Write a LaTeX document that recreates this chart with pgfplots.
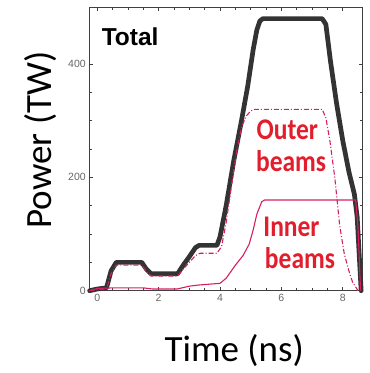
\documentclass[border=0pt]{standalone}
\usepackage{pgfplots}
\pgfplotsset{compat=1.18}
\usepackage{fontspec}
\setmainfont{Carlito}
\newfontfamily\arialfont{Liberation Sans}

\definecolor{beamline}{HTML}{D61E64}
\definecolor{beamtext}{HTML}{E21E2D}
\definecolor{totalline}{HTML}{333333}
\definecolor{tickgray}{HTML}{666666}

\begin{document}
\begin{tikzpicture}[x=1pt,y=1pt]
\path[use as bounding box] (-89.3,-82.3) rectangle (280.7,290.7);
\begin{axis}[
  at={(0,0)}, anchor=south west,
  scale only axis, width=273.4pt, height=283.4pt,
  xmin=-0.26, xmax=8.65, ymin=0, ymax=500,
  xtick={0,2,4,6,8}, ytick={0,200,400},
  minor x tick num=3, minor y tick num=3,
  tick align=inside,
  axis line style={color=black!75, line width=0.6pt},
  every tick/.style={color=black!75, line width=0.5pt},
  major tick length=4pt, minor tick length=3pt,
  /pgf/number format/assume math mode=true,
  ticklabel style={font=\arialfont\fontsize{10.5}{11}\selectfont, text=tickgray},
  xlabel={Time (ns)}, ylabel={Power (TW)},
  label style={font=\fontsize{37}{40}\selectfont},
  xlabel style={at={(axis description cs:0.530,-0.2505)}, anchor=base},
  ylabel style={at={(axis description cs:-0.1375,0.532)}, anchor=base},
  clip=false,
]
% total delivered power
\addplot[totalline, line width=4.7pt, line join=round, line cap=round] coordinates {
  (-0.25,0) (0,3) (0.3,5) (0.45,35) (0.62,50) (1.45,50) (1.6,38) (1.75,30)
  (2.62,30) (2.8,45) (3.0,60) (3.2,76) (3.32,80) (3.9,80) (4.0,95) (4.2,150)
  (4.45,230) (4.7,300) (4.9,360) (5.08,425) (5.2,460) (5.3,476) (5.4,480)
  (7.33,480) (7.45,470) (7.6,405) (7.8,330) (8.0,265) (8.2,210) (8.38,170)
  (8.47,130) (8.53,70) (8.6,0)
};
% outer beams
\addplot[beamline, line width=1.1pt, dash pattern=on 5pt off 2pt on 1pt off 2pt] coordinates {
  (-0.25,0) (0,2) (0.3,3) (0.45,30) (0.62,45) (1.45,45) (1.6,34) (1.75,26)
  (2.62,26) (2.8,38) (3.0,50) (3.2,62) (3.35,66) (3.9,66) (4.05,78) (4.2,120)
  (4.4,195) (4.55,248) (4.7,288) (4.85,308) (5.0,317) (5.1,320)
  (7.33,320) (7.45,305) (7.58,265) (7.74,200) (7.9,115) (8.05,65) (8.2,35)
  (8.32,15) (8.5,0)
};
% inner beams
\addplot[beamline, line width=1.1pt] coordinates {
  (-0.25,0) (0,4) (0.5,5) (1.5,5) (1.8,3) (2.6,3) (3.0,8) (3.3,10) (4.0,13)
  (4.2,22) (4.5,45) (4.75,62) (4.95,82) (5.08,107) (5.2,135) (5.36,157)
  (5.45,160) (8.42,160) (8.5,110) (8.58,0)
};
\node[anchor=base west, inner sep=0pt, font=\arialfont\bfseries\fontsize{24.5}{26}\selectfont]
  at (axis cs:0.14,433) {Total};
\begin{scope}[every node/.style={anchor=base west, inner sep=0pt, text=beamtext,
    font=\bfseries\fontsize{30}{32}\selectfont, xscale=0.85}]
  \node at (axis cs:5.19,266) {Outer};
  \node at (axis cs:5.17,209.5) {beams};
  \node at (axis cs:5.41,95) {Inner};
  \node at (axis cs:5.46,39.4) {beams};
\end{scope}
\end{axis}
\end{tikzpicture}
\end{document}
